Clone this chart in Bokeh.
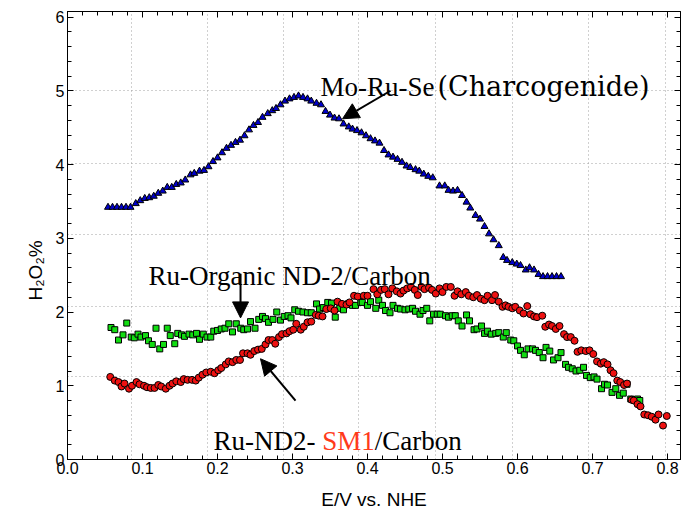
import math
from bokeh.plotting import figure
from bokeh.models import (Label, Arrow, NormalHead, SingleIntervalTicker, FixedTicker,
                          LinearAxis, Range1d, Title, PrintfTickFormatter)
from bokeh.embed import file_html
from bokeh.resources import INLINE

# ---------------- data ----------------
moruse_x = [0.054, 0.060, 0.066, 0.072, 0.078, 0.084, 0.091, 0.097, 0.103, 0.109,
            0.115, 0.121, 0.127, 0.133, 0.139, 0.145, 0.151, 0.157, 0.164, 0.169,
            0.176, 0.182, 0.188, 0.194, 0.200, 0.206, 0.212, 0.218, 0.224, 0.230,
            0.236, 0.242, 0.248, 0.254, 0.260, 0.267, 0.273, 0.278, 0.284, 0.290,
            0.296, 0.302, 0.308, 0.314, 0.320, 0.325, 0.332, 0.338, 0.344, 0.350,
            0.356, 0.362, 0.368, 0.375, 0.380, 0.386, 0.392, 0.398, 0.404, 0.410,
            0.416, 0.422, 0.428, 0.434, 0.440, 0.446, 0.452, 0.457, 0.464, 0.469,
            0.475, 0.481, 0.487, 0.496, 0.503, 0.508, 0.514, 0.520, 0.526, 0.532,
            0.537, 0.544, 0.550, 0.556, 0.562, 0.568, 0.575, 0.581, 0.586, 0.593,
            0.599, 0.604, 0.611, 0.616, 0.622, 0.628, 0.634, 0.640, 0.646, 0.652,
            0.658]
moruse_y = [3.42, 3.42, 3.42, 3.42, 3.42, 3.42, 3.47, 3.51, 3.54, 3.55,
            3.57, 3.61, 3.64, 3.69, 3.69, 3.73, 3.75, 3.79, 3.86, 3.88,
            3.91, 3.92, 3.97, 4.04, 4.09, 4.16, 4.22, 4.26, 4.30, 4.33,
            4.39, 4.47, 4.53, 4.57, 4.64, 4.69, 4.73, 4.76, 4.81, 4.86,
            4.89, 4.91, 4.93, 4.91, 4.89, 4.86, 4.83, 4.81, 4.72, 4.67,
            4.63, 4.62, 4.55, 4.51, 4.48, 4.46, 4.43, 4.39, 4.35, 4.32,
            4.29, 4.19, 4.13, 4.10, 4.07, 4.03, 3.98, 3.96, 3.93, 3.91,
            3.87, 3.84, 3.82, 3.71, 3.71, 3.65, 3.64, 3.65, 3.58, 3.49,
            3.41, 3.31, 3.26, 3.16, 3.06, 2.98, 2.90, 2.74, 2.70, 2.67,
            2.65, 2.63, 2.57, 2.60, 2.57, 2.51, 2.48, 2.48, 2.48, 2.48,
            2.48]

organic_x = [0.058, 0.063, 0.068, 0.074, 0.079, 0.085, 0.089, 0.094, 0.098, 0.104,
             0.108, 0.113, 0.118, 0.123, 0.128, 0.133, 0.137, 0.143, 0.147, 0.152,
             0.156, 0.162, 0.167, 0.172, 0.176, 0.181, 0.186, 0.191, 0.195, 0.200,
             0.205, 0.210, 0.215, 0.220, 0.225, 0.231, 0.235, 0.240, 0.244, 0.250,
             0.255, 0.260, 0.264, 0.268, 0.274, 0.279, 0.284, 0.289, 0.294, 0.298,
             0.303, 0.308, 0.314, 0.320, 0.325, 0.332, 0.336, 0.341, 0.347, 0.352,
             0.357, 0.363, 0.368, 0.374, 0.380, 0.384, 0.391, 0.393, 0.400, 0.404,
             0.411, 0.415, 0.420, 0.424, 0.430, 0.434, 0.440, 0.444, 0.450, 0.455,
             0.460, 0.464, 0.470, 0.474, 0.479, 0.483, 0.488, 0.493, 0.497, 0.504,
             0.508, 0.513, 0.517, 0.521, 0.526, 0.532, 0.536, 0.542, 0.546, 0.552,
             0.556, 0.560, 0.565, 0.571, 0.575, 0.581, 0.585, 0.591, 0.595, 0.600,
             0.604, 0.609, 0.614, 0.620, 0.624, 0.629, 0.634, 0.638, 0.643, 0.648,
             0.654, 0.658, 0.664, 0.668, 0.673, 0.678, 0.683, 0.688, 0.692, 0.697,
             0.702, 0.706, 0.712, 0.716, 0.720, 0.726, 0.731, 0.736, 0.741, 0.746,
             0.751, 0.755, 0.760, 0.763]
organic_y = [1.79, 1.76, 1.62, 1.69, 1.85, 1.66, 1.65, 1.70, 1.66, 1.68,
             1.61, 1.56, 1.78, 1.50, 1.56, 1.78, 1.68, 1.57, 1.71, 1.69,
             1.67, 1.70, 1.69, 1.71, 1.63, 1.70, 1.66, 1.66, 1.74, 1.75,
             1.77, 1.78, 1.84, 1.73, 1.84, 1.78, 1.76, 1.77, 1.87, 1.78,
             1.90, 1.94, 1.91, 1.86, 1.90, 2.00, 1.89, 1.94, 1.95, 1.92,
             2.03, 2.01, 2.00, 1.99, 1.99, 2.11, 2.04, 2.06, 2.13, 2.12,
             1.93, 2.05, 2.03, 2.11, 2.09, 2.09, 2.13, 2.13, 2.09, 2.14,
             2.05, 2.16, 2.09, 2.02, 1.99, 2.09, 2.05, 2.04, 2.03, 2.04,
             2.05, 2.01, 1.97, 2.02, 2.05, 1.88, 1.97, 1.97, 1.97, 1.95,
             1.93, 1.95, 1.95, 1.88, 1.81, 1.96, 1.88, 1.76, 1.77, 1.81,
             1.71, 1.74, 1.70, 1.71, 1.72, 1.66, 1.72, 1.62, 1.61, 1.54,
             1.48, 1.42, 1.50, 1.50, 1.48, 1.45, 1.38, 1.52, 1.47, 1.35,
             1.38, 1.45, 1.29, 1.25, 1.23, 1.20, 1.21, 1.25, 1.14, 1.11,
             1.12, 1.09, 0.96, 1.02, 1.01, 0.91, 0.96, 0.87, 0.90, 1.02,
             0.82, 0.81, 0.82, 0.80]

sm1_x = [0.057, 0.063, 0.068, 0.072, 0.076, 0.082, 0.086, 0.092, 0.096, 0.102,
         0.106, 0.111, 0.116, 0.121, 0.125, 0.131, 0.136, 0.140, 0.145, 0.151,
         0.155, 0.160, 0.166, 0.171, 0.175, 0.180, 0.185, 0.191, 0.196, 0.201,
         0.205, 0.211, 0.215, 0.220, 0.225, 0.230, 0.234, 0.240, 0.244, 0.249,
         0.254, 0.259, 0.264, 0.268, 0.273, 0.277, 0.282, 0.286, 0.292, 0.296,
         0.301, 0.305, 0.311, 0.315, 0.320, 0.325, 0.331, 0.335, 0.340, 0.345,
         0.351, 0.356, 0.360, 0.366, 0.372, 0.376, 0.382, 0.387, 0.395, 0.400,
         0.408, 0.413, 0.418, 0.423, 0.428, 0.433, 0.439, 0.444, 0.448, 0.453,
         0.458, 0.463, 0.467, 0.472, 0.476, 0.482, 0.486, 0.491, 0.496, 0.500,
         0.505, 0.511, 0.516, 0.520, 0.525, 0.531, 0.535, 0.541, 0.546, 0.551,
         0.556, 0.560, 0.566, 0.570, 0.575, 0.580, 0.584, 0.588, 0.593, 0.597,
         0.603, 0.608, 0.613, 0.617, 0.622, 0.626, 0.633, 0.637, 0.642, 0.646,
         0.651, 0.656, 0.662, 0.666, 0.671, 0.676, 0.680, 0.685, 0.691, 0.696,
         0.701, 0.706, 0.711, 0.715, 0.720, 0.724, 0.728, 0.733, 0.737, 0.742,
         0.746, 0.752, 0.755, 0.760, 0.764, 0.769, 0.774, 0.779, 0.784, 0.788,
         0.794, 0.799]
sm1_y = [1.12, 1.07, 1.05, 0.99, 1.03, 0.96, 1.00, 1.05, 1.02, 1.00,
         0.98, 0.97, 0.97, 1.01, 0.99, 0.96, 1.00, 1.03, 1.06, 1.05,
         1.09, 1.08, 1.08, 1.07, 1.11, 1.15, 1.18, 1.19, 1.17, 1.21,
         1.24, 1.29, 1.33, 1.32, 1.35, 1.35, 1.44, 1.44, 1.42, 1.47,
         1.49, 1.50, 1.56, 1.62, 1.62, 1.57, 1.66, 1.70, 1.71, 1.74,
         1.76, 1.84, 1.76, 1.80, 1.86, 1.87, 1.96, 1.95, 1.94, 2.04,
         2.05, 2.02, 2.14, 2.11, 2.10, 2.13, 2.22, 2.21, 2.22, 2.22,
         2.31, 2.24, 2.30, 2.31, 2.24, 2.32, 2.28, 2.25, 2.29, 2.32,
         2.34, 2.30, 2.23, 2.34, 2.31, 2.33, 2.30, 2.25, 2.32, 2.27,
         2.34, 2.34, 2.22, 2.28, 2.24, 2.27, 2.22, 2.20, 2.23, 2.18,
         2.16, 2.22, 2.16, 2.23, 2.14, 2.07, 2.09, 2.07, 2.05, 2.07,
         2.02, 1.98, 2.08, 1.97, 1.94, 1.93, 1.95, 1.80, 1.83, 1.81,
         1.77, 1.81, 1.70, 1.66, 1.66, 1.61, 1.46, 1.48, 1.47, 1.48,
         1.43, 1.33, 1.30, 1.32, 1.29, 1.21, 1.17, 1.07, 1.05, 1.01,
         1.03, 0.81, 0.80, 0.75, 0.72, 0.61, 0.60, 0.58, 0.54, 0.61,
         0.46, 0.59]

# ---------------- texts ----------------
x_title = "E/V vs. NHE"
y_title = "H\u2082O\u2082%"
label_moruse_parts = ["Mo-Ru-Se", "(Charcogenide)"]
label_organic = "Ru-Organic ND-2/Carbon"
label_sm1_parts = ["Ru-ND2- ", "SM1", "/Carbon"]

# ---------------- styles ----------------
SERIF = "Liberation Serif"
WIDE_SERIF = "DejaVu Serif"
SANS = "Liberation Sans"
GRID_X = [0.085, 0.187, 0.288, 0.388, 0.491, 0.593, 0.695, 0.797]
GRID_Y = [1.12, 2.08, 3.05, 4.02, 5.0]

p = figure(width=682, height=513, x_range=Range1d(0.0, 0.8173),
           y_range=Range1d(0.0, 6.0746), output_backend="svg",
           toolbar_location=None, min_border_left=67, min_border_right=2,
           min_border_top=11, min_border_bottom=54, background_fill_color="white",
           border_fill_color="white", outline_line_color="black", outline_line_width=1)

# main axes
p.xaxis.ticker = SingleIntervalTicker(interval=0.1, num_minor_ticks=5)
p.yaxis.ticker = SingleIntervalTicker(interval=1, num_minor_ticks=5)
p.xaxis.formatter = PrintfTickFormatter(format="%.1f")
for ax in (p.xaxis[0], p.yaxis[0]):
    ax.axis_line_color = "black"
    ax.major_tick_in = 6
    ax.major_tick_out = 0
    ax.minor_tick_in = 4
    ax.minor_tick_out = 0
    ax.major_tick_line_color = "black"
    ax.minor_tick_line_color = "black"
    ax.major_label_text_font = SANS
    ax.major_label_text_font_size = "16px"
    ax.major_label_text_color = "black"
p.xaxis.major_label_standoff = 2
p.yaxis.major_label_standoff = 3
p.xaxis.axis_label = x_title
p.xaxis.axis_label_text_font = SANS
p.xaxis.axis_label_text_font_size = "19px"
p.xaxis.axis_label_text_font_style = "normal"
p.xaxis.axis_label_text_color = "black"
p.xaxis.axis_label_standoff = 12

# frame edges on top and right: ticks only, labels emptied and not drawn
top_ticks = SingleIntervalTicker(interval=0.1, num_minor_ticks=5)
right_ticks = SingleIntervalTicker(interval=1, num_minor_ticks=5)
top_empty = {round(i * 0.1, 1): "" for i in range(9)}
right_empty = {i: "" for i in range(7)}
for loc, tick, empty in (("above", top_ticks, top_empty), ("right", right_ticks, right_empty)):
    ax = LinearAxis(ticker=tick, major_tick_in=6, major_tick_out=0, minor_tick_in=4,
                    minor_tick_out=0, major_label_text_font_size="8px",
                    major_label_text_color=None, major_label_standoff=0,
                    major_label_overrides=empty, axis_line_color="black",
                    major_tick_line_color="black", minor_tick_line_color="black")
    p.add_layout(ax, loc)

# y title (side title so it can sit lower than the frame centre)
yt = Title(text=y_title, align="left", vertical_align="top", offset=159,
           text_font=SANS, text_font_size="19px", text_font_style="normal",
           text_color="black")
p.add_layout(yt, "left")

# grid
p.xgrid.ticker = FixedTicker(ticks=GRID_X)
p.ygrid.ticker = FixedTicker(ticks=GRID_Y)
for g in (p.xgrid[0], p.ygrid[0]):
    g.grid_line_color = "#a0a0a0"
    g.grid_line_dash = "1 3"
    g.grid_line_width = 1

# data
p.scatter(organic_x, organic_y, marker="square", size=6, fill_color="#11dd11",
          line_color="black", line_width=1)
p.scatter(sm1_x, sm1_y, marker="circle", size=7, fill_color="#ee1111",
          line_color="black", line_width=1)
p.scatter(moruse_x, moruse_y, marker="triangle", size=7, fill_color="#0000cc",
          line_color="black", line_width=1)

# annotations
for part, xpos, fnt in zip(label_moruse_parts, (0.3373, 0.4933), (SERIF, WIDE_SERIF)):
    p.add_layout(Label(x=xpos, y=5.054, text=part, text_font=fnt, text_color="black",
                       text_font_size="27px", text_baseline="alphabetic"))
p.add_layout(Label(x=0.108, y=2.49, text=label_organic, text_font=SERIF,
                   text_color="black", text_font_size="27px", text_baseline="alphabetic"))
offs = [0, 108.7, 161.2]
cols = ["black", "#ff3a1a", "black"]
for part, off, c in zip(label_sm1_parts, offs, cols):
    p.add_layout(Label(x=0.1947, y=0.254, x_offset=off, text=part, text_font=SERIF,
                       text_font_size="27px", text_baseline="alphabetic", text_color=c))

for xs, ys, xe, ye in ((0.4307, 5.0, 0.3667, 4.62),
                       (0.2307, 2.52, 0.2307, 1.92),
                       (0.304, 0.797, 0.2573, 1.366)):
    p.add_layout(Arrow(end=NormalHead(size=16, fill_color="black", line_color="black"),
                       x_start=xs, y_start=ys, x_end=xe, y_end=ye,
                       line_color="black", line_width=2))

open("out.html", "w").write(file_html(p, INLINE))
